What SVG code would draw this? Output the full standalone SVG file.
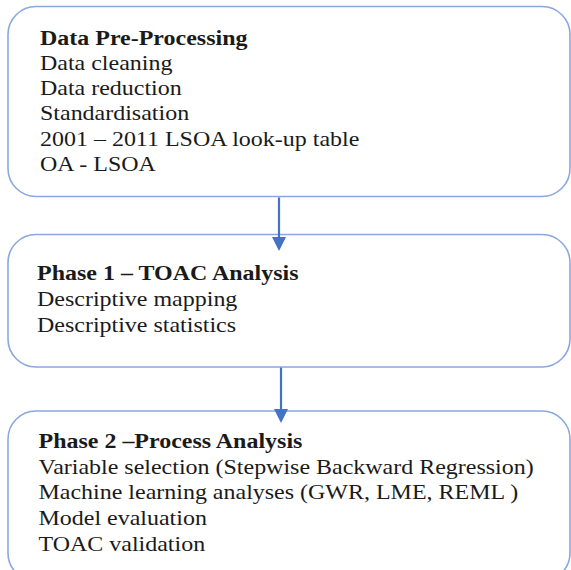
<svg xmlns="http://www.w3.org/2000/svg" width="571" height="570" viewBox="0 0 571 570">
<style>
.box{fill:#ffffff;stroke:#8aa8df;stroke-width:1.6}
.t{font-family:"Liberation Serif","Times New Roman",serif;font-size:22px;fill:#1a1a1a}
.b{font-weight:bold}
.conn{stroke:#4472c4;stroke-width:2.2;fill:none}
.head{fill:#4472c4}
</style>
<rect width="571" height="570" fill="#ffffff"/>
<g id="node-preprocessing">
<rect class="box" x="8" y="6.5" width="562" height="190" rx="28" ry="28"/>
<g transform="matrix(1.09 0 0 1 40 0)">
<text class="t b" x="0" y="45">Data Pre-Processing</text>
<text class="t" x="0" y="70">Data cleaning</text>
<text class="t" x="0" y="95.5">Data reduction</text>
<text class="t" x="0" y="120.5">Standardisation</text>
<text class="t" x="0" y="146">2001 – 2011 LSOA look-up table</text>
<text class="t" x="0" y="171">OA - LSOA</text>
</g>
</g>
<g id="node-phase1">
<rect class="box" x="8" y="234.5" width="562" height="132.5" rx="28" ry="28"/>
<g transform="matrix(1.09 0 0 1 37 0)">
<text class="t b" x="0" y="280.5">Phase 1 – TOAC Analysis</text>
<text class="t" x="0" y="306.5">Descriptive mapping</text>
<text class="t" x="0" y="332.5">Descriptive statistics</text>
</g>
</g>
<g id="node-phase2">
<rect class="box" x="8" y="411" width="562" height="170" rx="28" ry="28"/>
<g transform="matrix(1.09 0 0 1 38.5 0)">
<text class="t b" x="0" y="448.5">Phase 2 –Process Analysis</text>
<text class="t" x="0" y="474.5">Variable selection (Stepwise Backward Regression)</text>
<text class="t" x="0" y="499.5">Machine learning analyses (GWR, LME, REML )</text>
<text class="t" x="0" y="525">Model evaluation</text>
<text class="t" x="0" y="551.5">TOAC validation</text>
</g>
</g>
<g id="connectors">
<line class="conn" x1="279" y1="197.5" x2="279" y2="238"/>
<polygon class="head" points="272,237 286,237 279,251"/>
<line class="conn" x1="281" y1="367.5" x2="281" y2="410"/>
<polygon class="head" points="274,409 288,409 281,423"/>
</g>
</svg>
